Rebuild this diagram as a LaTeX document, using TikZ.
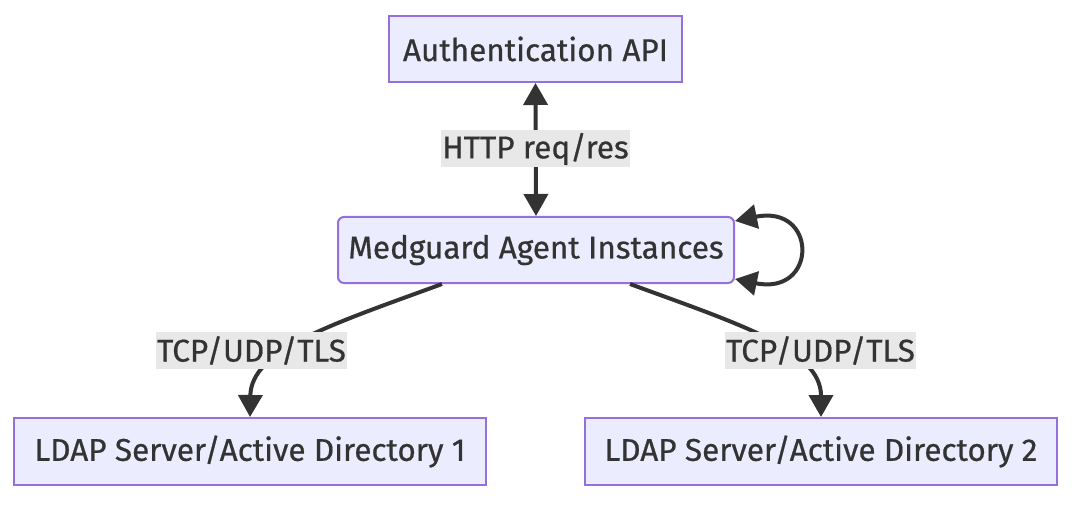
\documentclass[tikz,border=0pt]{standalone}
\usepackage{fontspec}
\setmainfont{Fira Sans}[FakeBold=0.6]
\usetikzlibrary{arrows.meta,calc}
\definecolor{nodefill}{HTML}{ECECFF}
\definecolor{nodeline}{HTML}{9370DB}
\definecolor{ink}{HTML}{333333}
\definecolor{lblfill}{HTML}{E8E8E8}
\tikzset{
  box/.style={draw=nodeline, fill=nodefill, line width=2pt, text=ink, inner sep=0pt,
    font=\fontsize{31.5}{38}\selectfont},
  edgelbl/.style={fill=lblfill, text=ink, inner xsep=1.5pt, inner ysep=0pt, minimum height=37pt,
    font=\fontsize{31.5}{38}\selectfont},
  conn/.style={draw=ink, line width=4pt},
  tip/.tip={Triangle[length=22pt,width=24pt]},
}
\begin{document}
\begin{tikzpicture}[x=1pt,y=-1pt]
\useasboundingbox (0,0) rectangle (1088,508);
\node[box, minimum width=293pt, minimum height=66pt] (auth) at (535.5,49) {Authentication API};
\node[box, rounded corners=6pt, minimum width=396pt, minimum height=66pt] (med) at (536,250) {Medguard Agent Instances};
\node[box, minimum width=472pt, minimum height=67pt] (ldap1) at (250,451.5) {LDAP Server/Active Directory 1};
\node[box, minimum width=472pt, minimum height=67pt] (ldap2) at (821,451.5) {LDAP Server/Active Directory 2};

\draw[conn, tip-tip] (auth.south) -- (med.north);
\draw[conn, -tip] ($(med.south)+(-94,0)$) .. controls (330,325) and (251,350) .. (ldap1.north);
\draw[conn, -tip] ($(med.south)+(94,0)$) .. controls (742,325) and (821,350) .. (ldap2.north);
\draw[conn, tip-tip] ($(med.east)+(0,-29)$) .. controls (818,204) and (818,296) .. ($(med.east)+(0,29)$);

\node[edgelbl] (l0) at (535.5,149) {HTTP req/res};
\node[edgelbl] (l1) at (251.5,350.5) {TCP/UDP/TLS};
\node[edgelbl] (l2) at (820.5,350.5) {TCP/UDP/TLS};
\end{tikzpicture}
\end{document}
